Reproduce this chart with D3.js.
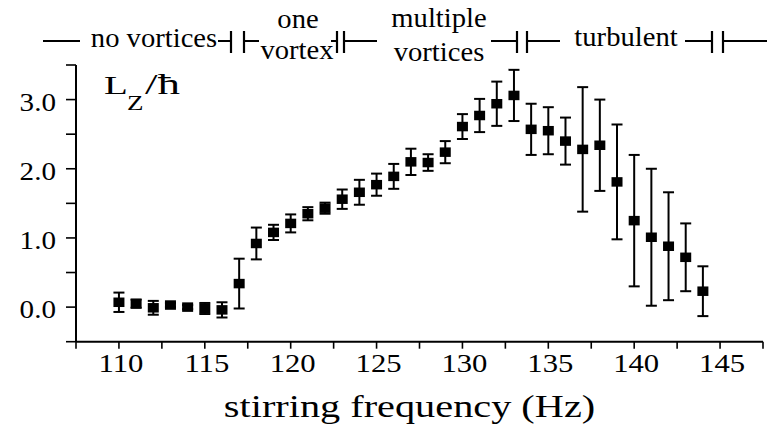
<!DOCTYPE html>
<html>
<head>
<meta charset="utf-8">
<script src="https://cdn.jsdelivr.net/npm/d3@7"></script>
</head>
<body style="margin:0;padding:0;background:#fff">
<svg id="chart" width="782" height="426" style="display:block"></svg>
<script>
// ---- data ----
const freq = [110,111,112,113,114,115,116,117,118,119,120,121,122,123,124,125,126,127,128,129,130,131,132,133,134,135,136,137,138,139,140,141,142,143,144];
const lz = [0.07,0.05,-0.01,0.03,0.00,-0.02,-0.04,0.34,0.92,1.08,1.21,1.35,1.43,1.56,1.66,1.77,1.89,2.10,2.09,2.24,2.61,2.77,2.94,3.06,2.57,2.55,2.40,2.28,2.34,1.81,1.25,1.01,0.88,0.72,0.23];
const lzErr = [0.14,0.06,0.10,0.03,0.03,0.08,0.11,0.36,0.23,0.11,0.13,0.095,0.08,0.14,0.18,0.16,0.18,0.19,0.12,0.16,0.18,0.24,0.32,0.37,0.37,0.34,0.34,0.90,0.66,0.83,0.95,0.99,0.78,0.49,0.36];
const xTickValues = [110,115,120,125,130,135,140,145];
const xMinorTicks = [107.5,112.5,117.5,122.5,127.5,132.5,137.5,142.5,147.5];
const yTickValues = [0,1,2,3];
const yMinorTicks = [-0.5,0.5,1.5,2.5,3.5];
const xTitle = "stirring frequency (Hz)";
const regimeLabels = [["no vortices"],["one","vortex"],["multiple","vortices"],["turbulent"]];

// ---- layout ----
const FONT = "Liberation Serif";
const svg = d3.select("#chart");
const x = d3.scaleLinear().domain([107.5,147.5]).range([76,763]);
const y = d3.scaleLinear().domain([-0.5,3.5]).range([341.7,65]);

function sText(g, tx, ty, str, size, anchor, sx) {
  const gg = g.append("g").attr("transform", `translate(${tx},${ty}) scale(${sx},1)`);
  return gg.append("text").attr("text-anchor", anchor).attr("font-size", size)
    .attr("font-family", FONT).attr("fill", "#000").text(str);
}

// axes lines
const axisG = svg.append("g");
axisG.append("line").attr("x1", x(107.5)).attr("x2", x(147.5)).attr("y1", y(-0.5)).attr("y2", y(-0.5))
  .attr("stroke", "#000").attr("stroke-width", 2);
axisG.append("line").attr("x1", x(107.5)).attr("x2", x(107.5)).attr("y1", y(-0.5)).attr("y2", y(3.5))
  .attr("stroke", "#000").attr("stroke-width", 2);

// x ticks
axisG.selectAll(".xt").data(xTickValues.concat(xMinorTicks)).join("line")
  .attr("x1", d => x(d)).attr("x2", d => x(d))
  .attr("y1", y(-0.5)).attr("y2", y(-0.5) + 7)
  .attr("stroke", "#000").attr("stroke-width", 1.6);
xTickValues.forEach(v => sText(axisG, x(v) + 2, 372, String(v), 26, "middle", 1.18));

// y ticks
axisG.selectAll(".yt").data(yTickValues.concat(yMinorTicks)).join("line")
  .attr("x1", x(107.5) - 10).attr("x2", x(107.5))
  .attr("y1", d => y(d)).attr("y2", d => y(d))
  .attr("stroke", "#000").attr("stroke-width", 1.6);
yTickValues.forEach(v => sText(axisG, 56, y(v) + 11, d3.format(".1f")(v), 26, "end", 1.12));

// axis title
sText(svg, 409.5, 416.5, xTitle, 31, "middle", 1.3);

// Lz/hbar label
sText(svg, 104, 94, "L", 26, "start", 1.5);
sText(svg, 127, 110, "Z", 20, "start", 1.35);
sText(svg, 145, 94, "/ħ", 29, "start", 1.55);

// error bars & markers
const pts = freq.map((f, i) => ({f, v: lz[i], e: lzErr[i]}));
const eb = svg.append("g").attr("stroke", "#000").attr("stroke-width", 2);
eb.selectAll(".v").data(pts).join("line")
  .attr("x1", d => x(d.f)).attr("x2", d => x(d.f))
  .attr("y1", d => y(d.v + d.e)).attr("y2", d => y(d.v - d.e));
eb.selectAll(".t").data(pts).join("line")
  .attr("x1", d => x(d.f) - 5.5).attr("x2", d => x(d.f) + 5.5)
  .attr("y1", d => y(d.v + d.e)).attr("y2", d => y(d.v + d.e));
eb.selectAll(".b").data(pts).join("line")
  .attr("x1", d => x(d.f) - 5.5).attr("x2", d => x(d.f) + 5.5)
  .attr("y1", d => y(d.v - d.e)).attr("y2", d => y(d.v - d.e));
svg.append("g").selectAll("rect").data(pts).join("rect")
  .attr("x", d => x(d.f) - 5.5).attr("y", d => y(d.v) - 4.75)
  .attr("width", 11).attr("height", 9.5).attr("fill", "#000");

// regime annotations
const ann = svg.append("g");
const LY = 41;
const hl = (x1, x2) => ann.append("line").attr("x1", x1).attr("x2", x2).attr("y1", LY).attr("y2", LY)
  .attr("stroke", "#000").attr("stroke-width", 2);
const vb = (xx) => ann.append("line").attr("x1", xx).attr("x2", xx).attr("y1", 31).attr("y2", 53)
  .attr("stroke", "#000").attr("stroke-width", 2.2);
hl(43, 80);
sText(ann, 154, 47, regimeLabels[0][0], 27, "middle", 1.06);
hl(218, 231); vb(231); vb(244); hl(244, 259);
sText(ann, 298, 28, regimeLabels[1][0], 27, "middle", 1.06);
sText(ann, 297, 59, regimeLabels[1][1], 27, "middle", 1.06);
hl(331, 337); vb(337); vb(344); hl(344, 377);
sText(ann, 439, 27, regimeLabels[2][0], 27, "middle", 1.06);
sText(ann, 439, 61, regimeLabels[2][1], 27, "middle", 1.06);
hl(491, 517); vb(517); vb(527); hl(527, 560);
sText(ann, 626, 46, regimeLabels[3][0], 27, "middle", 1.06);
hl(685, 712); vb(712); vb(723); hl(723, 767);
</script>
</body>
</html>
